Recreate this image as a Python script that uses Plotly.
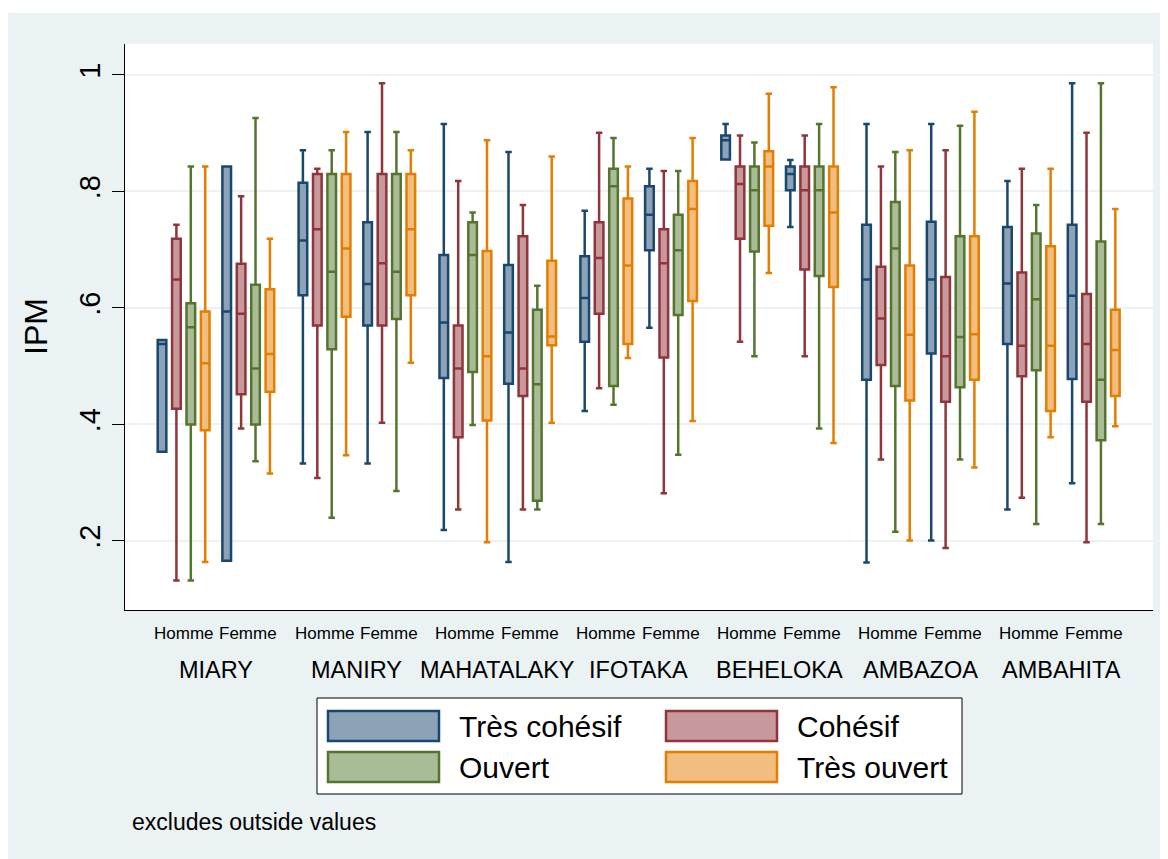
import plotly.graph_objects as go

villages = ["MIARY", "MANIRY", "MAHATALAKY", "IFOTAKA", "BEHELOKA", "AMBAZOA", "AMBAHITA"]
sexes = ["Homme", "Femme"]
categories = ["Très cohésif", "Cohésif", "Ouvert", "Très ouvert"]

# box stats, order: village by village, Homme then Femme
tres_cohesif_lo = [0.353, 0.166, 0.333, 0.333, 0.219, 0.164, 0.423, 0.566, 0.855, 0.739, 0.163, 0.201, 0.254, 0.299]
tres_cohesif_q1 = [0.353, 0.166, 0.622, 0.570, 0.480, 0.470, 0.542, 0.699, 0.855, 0.802, 0.477, 0.522, 0.538, 0.478]
tres_cohesif_med = [0.538, 0.594, 0.716, 0.641, 0.575, 0.558, 0.617, 0.760, 0.888, 0.830, 0.649, 0.649, 0.642, 0.621]
tres_cohesif_q3 = [0.545, 0.843, 0.815, 0.747, 0.691, 0.674, 0.689, 0.809, 0.896, 0.843, 0.743, 0.748, 0.739, 0.743]
tres_cohesif_hi = [0.545, 0.843, 0.871, 0.902, 0.916, 0.868, 0.767, 0.839, 0.916, 0.854, 0.916, 0.916, 0.818, 0.986]

cohesif_lo = [0.132, 0.393, 0.308, 0.403, 0.254, 0.254, 0.462, 0.282, 0.542, 0.517, 0.340, 0.188, 0.274, 0.198]
cohesif_q1 = [0.427, 0.452, 0.570, 0.570, 0.378, 0.449, 0.590, 0.515, 0.719, 0.666, 0.502, 0.439, 0.483, 0.439]
cohesif_med = [0.649, 0.590, 0.735, 0.677, 0.496, 0.496, 0.686, 0.677, 0.813, 0.802, 0.582, 0.517, 0.535, 0.538]
cohesif_q3 = [0.719, 0.676, 0.830, 0.830, 0.570, 0.723, 0.747, 0.735, 0.843, 0.843, 0.671, 0.653, 0.661, 0.624]
cohesif_hi = [0.743, 0.792, 0.839, 0.986, 0.818, 0.777, 0.901, 0.835, 0.896, 0.896, 0.843, 0.871, 0.839, 0.901]

ouvert_lo = [0.132, 0.337, 0.240, 0.286, 0.399, 0.254, 0.434, 0.348, 0.517, 0.393, 0.216, 0.340, 0.229, 0.229]
ouvert_q1 = [0.400, 0.400, 0.529, 0.581, 0.490, 0.269, 0.466, 0.588, 0.697, 0.655, 0.466, 0.464, 0.493, 0.373]
ouvert_med = [0.567, 0.496, 0.662, 0.662, 0.691, 0.469, 0.809, 0.699, 0.802, 0.802, 0.702, 0.550, 0.615, 0.477]
ouvert_q3 = [0.608, 0.640, 0.830, 0.830, 0.747, 0.597, 0.839, 0.760, 0.843, 0.843, 0.782, 0.723, 0.728, 0.714]
ouvert_hi = [0.843, 0.926, 0.871, 0.902, 0.764, 0.638, 0.892, 0.835, 0.884, 0.916, 0.868, 0.913, 0.777, 0.986]

tres_ouvert_lo = [0.164, 0.316, 0.347, 0.506, 0.198, 0.403, 0.514, 0.406, 0.660, 0.368, 0.201, 0.326, 0.378, 0.397]
tres_ouvert_q1 = [0.390, 0.456, 0.585, 0.622, 0.407, 0.536, 0.538, 0.612, 0.741, 0.636, 0.441, 0.477, 0.423, 0.449]
tres_ouvert_med = [0.505, 0.521, 0.702, 0.735, 0.517, 0.551, 0.673, 0.770, 0.843, 0.764, 0.554, 0.555, 0.535, 0.528]
tres_ouvert_q3 = [0.594, 0.632, 0.830, 0.830, 0.698, 0.681, 0.788, 0.818, 0.869, 0.843, 0.673, 0.723, 0.706, 0.597]
tres_ouvert_hi = [0.843, 0.719, 0.902, 0.871, 0.888, 0.860, 0.843, 0.892, 0.968, 0.979, 0.871, 0.937, 0.839, 0.770]

y_ticks = [0.2, 0.4, 0.6, 0.8, 1.0]
y_ticktext = [".2", ".4", ".6", ".8", "1"]

stats = [
    (tres_cohesif_lo, tres_cohesif_q1, tres_cohesif_med, tres_cohesif_q3, tres_cohesif_hi),
    (cohesif_lo, cohesif_q1, cohesif_med, cohesif_q3, cohesif_hi),
    (ouvert_lo, ouvert_q1, ouvert_med, ouvert_q3, ouvert_hi),
    (tres_ouvert_lo, tres_ouvert_q1, tres_ouvert_med, tres_ouvert_q3, tres_ouvert_hi),
]
line_colors = ["#1a476f", "#90353b", "#55752f", "#e37e00"]
fill_colors = ["#8ca3b7", "#c8999c", "#aabb97", "#f1be80"]

FONT = "Arial, Liberation Sans, sans-serif"
BG = "#eaf2f3"

# layout of the over() groups, in units of one box step
VILLAGE_STEP = 9.785
SEX_STEP = 4.493


def box_x(j):
    return [i * VILLAGE_STEP + k * SEX_STEP + j for i in range(len(villages)) for k in range(len(sexes))]


fig = go.Figure()
for j, cat in enumerate(categories):
    lo, q1, med, q3, hi = stats[j]
    fig.add_trace(go.Box(
        name=cat, x=box_x(j),
        lowerfence=lo, q1=q1, median=med, q3=q3, upperfence=hi,
        width=0.6, whiskerwidth=0.75,
        line=dict(color=line_colors[j], width=2.5),
        fillcolor=fill_colors[j],
        showlegend=False,
    ))

# the page puts the figure 8px in from the top-left corner
OFF = 8
W, H = 1160, 851
L, R, T, B = 117, 15, 36, 249
pw, ph = W - L - R, H - T - B


def px(x):
    # screen x -> paper
    return (x - OFF - L) / pw


def py(y):
    # screen y -> paper
    return (H - B - (y - OFF)) / ph


annotations = []
for i, v in enumerate(villages):
    annotations.append(dict(x=i * VILLAGE_STEP + (SEX_STEP + 3) / 2, y=0, xref="x", yref="paper",
                            text=v, showarrow=False, yanchor="middle", yshift=-60,
                            font=dict(size=23.5, color="black", family=FONT)))
    for k, s in enumerate(sexes):
        annotations.append(dict(x=i * VILLAGE_STEP + k * SEX_STEP + 1.5, y=0, xref="x", yref="paper",
                                text=s, showarrow=False, yanchor="middle", yshift=-23,
                                font=dict(size=17, color="black", family=FONT)))

annotations.append(dict(x=px(36), y=py(327), xref="paper", yref="paper", text="IPM", textangle=-90,
                        showarrow=False, xanchor="center", yanchor="middle",
                        font=dict(size=32, color="black", family=FONT)))
annotations.append(dict(x=px(130), y=py(822), xref="paper", yref="paper", text="excludes outside values",
                        showarrow=False, xanchor="left", yanchor="middle",
                        font=dict(size=23, color="black", family=FONT)))

shapes = [
    # thin white strip above the graph region
    dict(type="rect", xref="paper", yref="paper", x0=px(0), x1=px(1200), y0=py(0), y1=py(13),
         fillcolor="white", line=dict(width=0), layer="below"),
    # legend box
    dict(type="rect", xref="paper", yref="paper", x0=px(317), x1=px(962), y0=py(698), y1=py(794),
         fillcolor="white", line=dict(color="black", width=1)),
]

legend_pos = [(328, 726), (666, 726), (328, 767), (666, 767)]
for j, cat in enumerate(categories):
    lx, ly = legend_pos[j]
    shapes.append(dict(type="rect", xref="paper", yref="paper", x0=px(lx), x1=px(lx + 111),
                       y0=py(ly - 15), y1=py(ly + 15), fillcolor=fill_colors[j],
                       line=dict(color=line_colors[j], width=2.5)))
    annotations.append(dict(x=px(lx + 129), y=py(ly), xref="paper", yref="paper", text=cat,
                            showarrow=False, xanchor="left", yanchor="middle",
                            font=dict(size=30, color="black", family=FONT)))

fig.update_layout(
    width=W, height=H,
    margin=dict(l=L, r=R, t=T, b=B),
    paper_bgcolor=BG, plot_bgcolor="white",
    boxmode="overlay",
    font=dict(family=FONT, color="black"),
    xaxis=dict(range=[-2.57, 68.82], showticklabels=False, ticks="", showgrid=False, zeroline=False,
               showline=True, linecolor="black", linewidth=1),
    yaxis=dict(range=[0.0815, 1.0532], tickvals=y_ticks, ticktext=y_ticktext, tickangle=-90,
               ticks="outside", ticklen=12, tickcolor="black", tickwidth=1,
               tickfont=dict(size=29, color="black", family=FONT),
               showgrid=True, gridcolor=BG, gridwidth=2, zeroline=False,
               showline=True, linecolor="black", linewidth=1),
    annotations=annotations,
    shapes=shapes,
)

fig.write_html("out.html")
